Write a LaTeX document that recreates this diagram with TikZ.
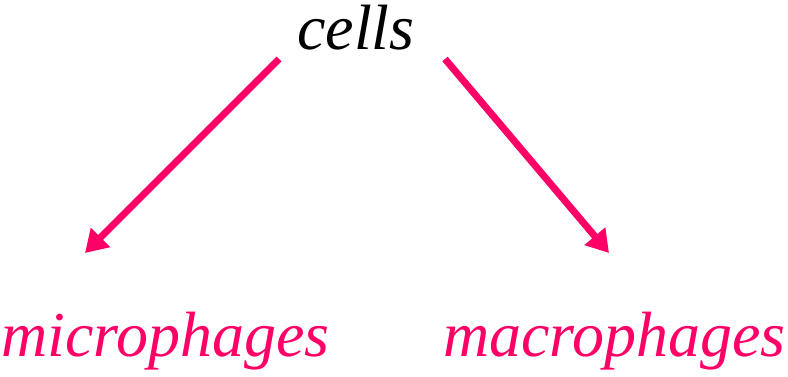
\documentclass[tikz,border=0pt]{standalone}
\usepackage{fontspec}
\setmainfont{Liberation Serif}[ItalicFont={Liberation Serif Italic}]
\usetikzlibrary{arrows.meta}
\definecolor{mag}{RGB}{255,0,102}
\begin{document}
\begin{tikzpicture}[x=1pt,y=-1pt,
  lbl/.style={inner sep=0pt,font=\fontsize{64}{70}\selectfont\itshape},
  arr/.style={draw=mag,line width=7pt,-{Triangle[length=22pt,width=26pt]}}]
\useasboundingbox (0,0) rectangle (788,377);
\node[lbl,anchor=base] (cells) at (356,50) {cells};
\node[lbl,text=mag,anchor=base west] (micro) at (1,356) {microphages};
\node[lbl,text=mag,anchor=base west] (macro) at (443,356) {macrophages};
\coordinate (ls) at (279,59);
\coordinate (le) at (85,253);
\coordinate (rs) at (445,59);
\coordinate (re) at (609,253);
\draw[arr] (ls) -- (le);
\draw[arr] (rs) -- (re);
\end{tikzpicture}
\end{document}
